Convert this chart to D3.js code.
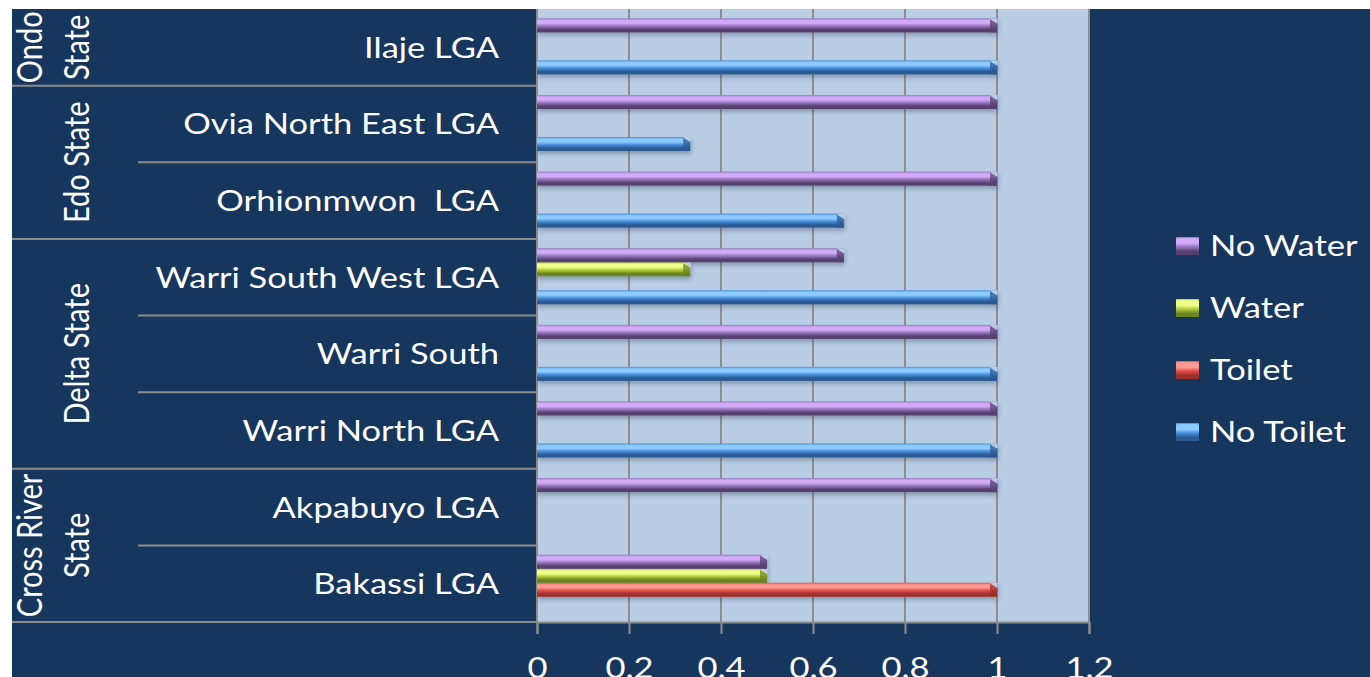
<!DOCTYPE html>
<html>
<head>
<meta charset="utf-8">
<script src="https://cdn.jsdelivr.net/npm/d3@7"></script>
<style>
  body { margin: 0; background: #fff; }
  text { font-family: Lato, "Open Sans", sans-serif; fill: #fff; }
</style>
</head>
<body>
<svg id="chart"></svg>
<script>
// categories, bottom to top as in the picture
var categories = ["Bakassi LGA", "Akpabuyo LGA", "Warri North LGA", "Warri South",
  "Warri South West LGA", "Orhionmwon  LGA", "Ovia North East LGA", "Ilaje LGA"];

// state groups, bottom to top, with how many LGAs each one holds
var stateLines = [["Cross River", "State"], ["Delta State"], ["Edo State"], ["Ondo", "State"]];
var stateSizes = [2, 3, 2, 1];

var seriesNames = ["No Toilet", "Toilet", "Water", "No Water"];
var noToilet = [0, 0, 1, 1, 1, 0.667, 0.333, 1];
var toilet   = [1, 0, 0, 0, 0, 0, 0, 0];
var water    = [0.5, 0, 0, 0, 0.333, 0, 0, 0];
var noWater  = [0.5, 1, 1, 1, 0.667, 1, 1, 1];

var xTicks = [0, 0.2, 0.4, 0.6, 0.8, 1, 1.2];

var W = 1370, H = 677;
var fontSize = 29, stretch = 1.19;   // picture is stretched sideways

var colors = {
  "No Toilet": { light: "#8ccaff", mid: "#4a8fdc", dark: "#2b5a93" },
  "Toilet":    { light: "#ff9a92", mid: "#e2504b", dark: "#9c2f2c" },
  "Water":     { light: "#eeff8a", mid: "#b3cf3f", dark: "#6c8421" },
  "No Water":  { light: "#d2aaf7", mid: "#9677c0", dark: "#56406f" }
};

var table = seriesNames.map(function (name, s) {
  var vals = [noToilet, toilet, water, noWater][s];
  return { name: name, values: categories.map(function (c, i) { return { cat: c, v: vals[i] }; }) };
});

var svg = d3.select("#chart").attr("width", W).attr("height", H);

var defs = svg.append("defs");
seriesNames.forEach(function (name, i) {
  var c = colors[name];
  var g = defs.append("linearGradient").attr("id", "grad" + i)
    .attr("x1", 0).attr("y1", 0).attr("x2", 0).attr("y2", 1);
  g.append("stop").attr("offset", "0%").attr("stop-color", c.mid);
  g.append("stop").attr("offset", "15%").attr("stop-color", c.light);
  g.append("stop").attr("offset", "35%").attr("stop-color", c.light);
  g.append("stop").attr("offset", "55%").attr("stop-color", c.mid);
  g.append("stop").attr("offset", "80%").attr("stop-color", c.dark);
  g.append("stop").attr("offset", "100%").attr("stop-color", c.dark);
});
var shadow = defs.append("filter").attr("id", "shadow")
  .attr("x", "-5%").attr("y", "-50%").attr("width", "110%").attr("height", "200%");
shadow.append("feDropShadow").attr("dx", 1).attr("dy", 3).attr("stdDeviation", 2)
  .attr("flood-color", "#2a3a50").attr("flood-opacity", 0.35);

// navy background (white strips left and top come from the crop)
svg.append("rect").attr("x", 12).attr("y", 9).attr("width", W - 12).attr("height", H - 9)
  .attr("fill", "#17365d");

var x = d3.scaleLinear().domain([0, 1.2]).range([537, 1089]);
var y = d3.scaleBand().domain(categories.slice().reverse()).range([9, 622]);
var inner = d3.scaleBand().domain(seriesNames.slice().reverse())
  .range([9.4, 9.4 + 56]);

// plot area
svg.append("rect").attr("x", x(0)).attr("y", 9)
  .attr("width", x(1.2) - x(0)).attr("height", 613)
  .attr("fill", "#b9cde5");

svg.append("g").selectAll("line").data(xTicks).enter().append("line")
  .attr("x1", function (d) { return x(d); }).attr("x2", function (d) { return x(d); })
  .attr("y1", 9).attr("y2", 622)
  .attr("stroke", "#8e8e8e").attr("stroke-width", 2);

// x axis
var axis = svg.append("g").attr("transform", "translate(0,622)")
  .call(d3.axisBottom(x).tickValues(xTicks).tickSize(12).tickPadding(0)
    .tickFormat(function (d) { return String(+d.toFixed(1)); }));
axis.select(".domain").attr("stroke", "#8e8e8e").attr("stroke-width", 2);
axis.selectAll(".tick line").attr("stroke", "#8e8e8e").attr("stroke-width", 2);
axis.selectAll(".tick text")
  .attr("y", 0).attr("dy", 0)
  .attr("transform", "translate(0,56) scale(" + stretch + ",1)")
  .style("font-size", fontSize + "px").attr("fill", "#fff");

// separators on the category side
var bounds = [];
var acc = 0;
stateSizes.forEach(function (n, gi) {
  for (var k = 1; k <= n; k++) {
    var idx = acc + k - 1;
    bounds.push({ y: y(categories[idx]), group: k === n });
  }
  acc += n;
});
svg.append("g").selectAll("line").data(bounds.filter(function (b) { return b.y > 10; }))
  .enter().append("line")
  .attr("x1", function (d) { return d.group ? 12 : 138; }).attr("x2", x(0))
  .attr("y1", function (d) { return d.y; }).attr("y2", function (d) { return d.y; })
  .attr("stroke", "#8c8c8c").attr("stroke-width", 2);
svg.append("line").attr("x1", 12).attr("x2", x(0)).attr("y1", 622).attr("y2", 622)
  .attr("stroke", "#8c8c8c").attr("stroke-width", 2);

// category labels
svg.append("g").selectAll("text").data(categories).enter().append("text")
  .attr("transform", function (d) {
    return "translate(499," + (y(d) + y.bandwidth() / 2) + ") scale(" + stretch + ",1)";
  })
  .attr("text-anchor", "end").attr("dy", "0.36em")
  .style("font-size", fontSize + "px")
  .style("white-space", "pre")
  .text(function (d) { return d; });

// state labels, rotated
acc = 0;
stateLines.forEach(function (lines, gi) {
  var first = categories[acc], last = categories[acc + stateSizes[gi] - 1];
  var yc = (y(first) + y.bandwidth() + y(last)) / 2;
  acc += stateSizes[gi];
  lines.forEach(function (t, li) {
    var xc = lines.length === 1 ? 77 : (li === 0 ? 29.5 : 77);
    svg.append("text")
      .attr("transform", "translate(" + xc + "," + yc + ") scale(" + stretch + ",1) rotate(-90)")
      .attr("text-anchor", "middle").attr("dy", "0.36em")
      .style("font-size", fontSize + "px")
      .text(t);
  });
});

// bars
var bars = svg.append("g").attr("filter", "url(#shadow)");
table.forEach(function (s, si) {
  var g = bars.append("g");
  var h = inner.bandwidth();
  var data = s.values.filter(function (d) { return d.v > 0; });
  g.selectAll("rect").data(data).enter().append("rect")
    .attr("x", x(0))
    .attr("y", function (d) { return y(d.cat) + inner(s.name); })
    .attr("width", function (d) { return x(d.v) - x(0); })
    .attr("height", h)
    .attr("fill", "url(#grad" + si + ")");
  // bevelled right end
  g.selectAll("path.cap").data(data).enter().append("path")
    .attr("class", "cap")
    .attr("d", function (d) {
      var x1 = x(d.v), y0 = y(d.cat) + inner(s.name), y1 = y0 + h;
      return "M" + (x1 - 7) + "," + (y0 + 1) + "L" + x1 + "," + (y0 + 5) +
        "L" + x1 + "," + y1 + "L" + (x1 - 7) + "," + y1 + "Z";
    })
    .attr("fill", colors[s.name].dark).attr("opacity", 0.75);
  g.selectAll("path.cut").data(data).enter().append("path")
    .attr("class", "cut")
    .attr("d", function (d) {
      var x1 = x(d.v), y0 = y(d.cat) + inner(s.name);
      return "M" + (x1 - 7) + "," + y0 + "L" + (x1 + 0.5) + "," + y0 +
        "L" + (x1 + 0.5) + "," + (y0 + 5) + "Z";
    })
    .attr("fill", "#b9cde5");
});

// legend
var legendOrder = seriesNames.slice().reverse();
var legend = svg.append("g").selectAll("g").data(legendOrder).enter().append("g")
  .attr("transform", function (d, i) { return "translate(1176," + (246 + i * 62) + ")"; });
legend.append("rect").attr("x", 0).attr("y", -9).attr("width", 23).attr("height", 18)
  .attr("fill", function (d) { return "url(#grad" + seriesNames.indexOf(d) + ")"; });
legend.append("path").attr("d", "M1,-8L22,-8L11.5,-1Z")
  .attr("fill", function (d) { return colors[d].light; }).attr("opacity", 0.85);
legend.append("text")
  .attr("transform", "translate(34,0) scale(" + stretch + ",1)")
  .attr("dy", "0.36em")
  .style("font-size", fontSize + "px")
  .text(function (d) { return d; });
</script>
</body>
</html>
